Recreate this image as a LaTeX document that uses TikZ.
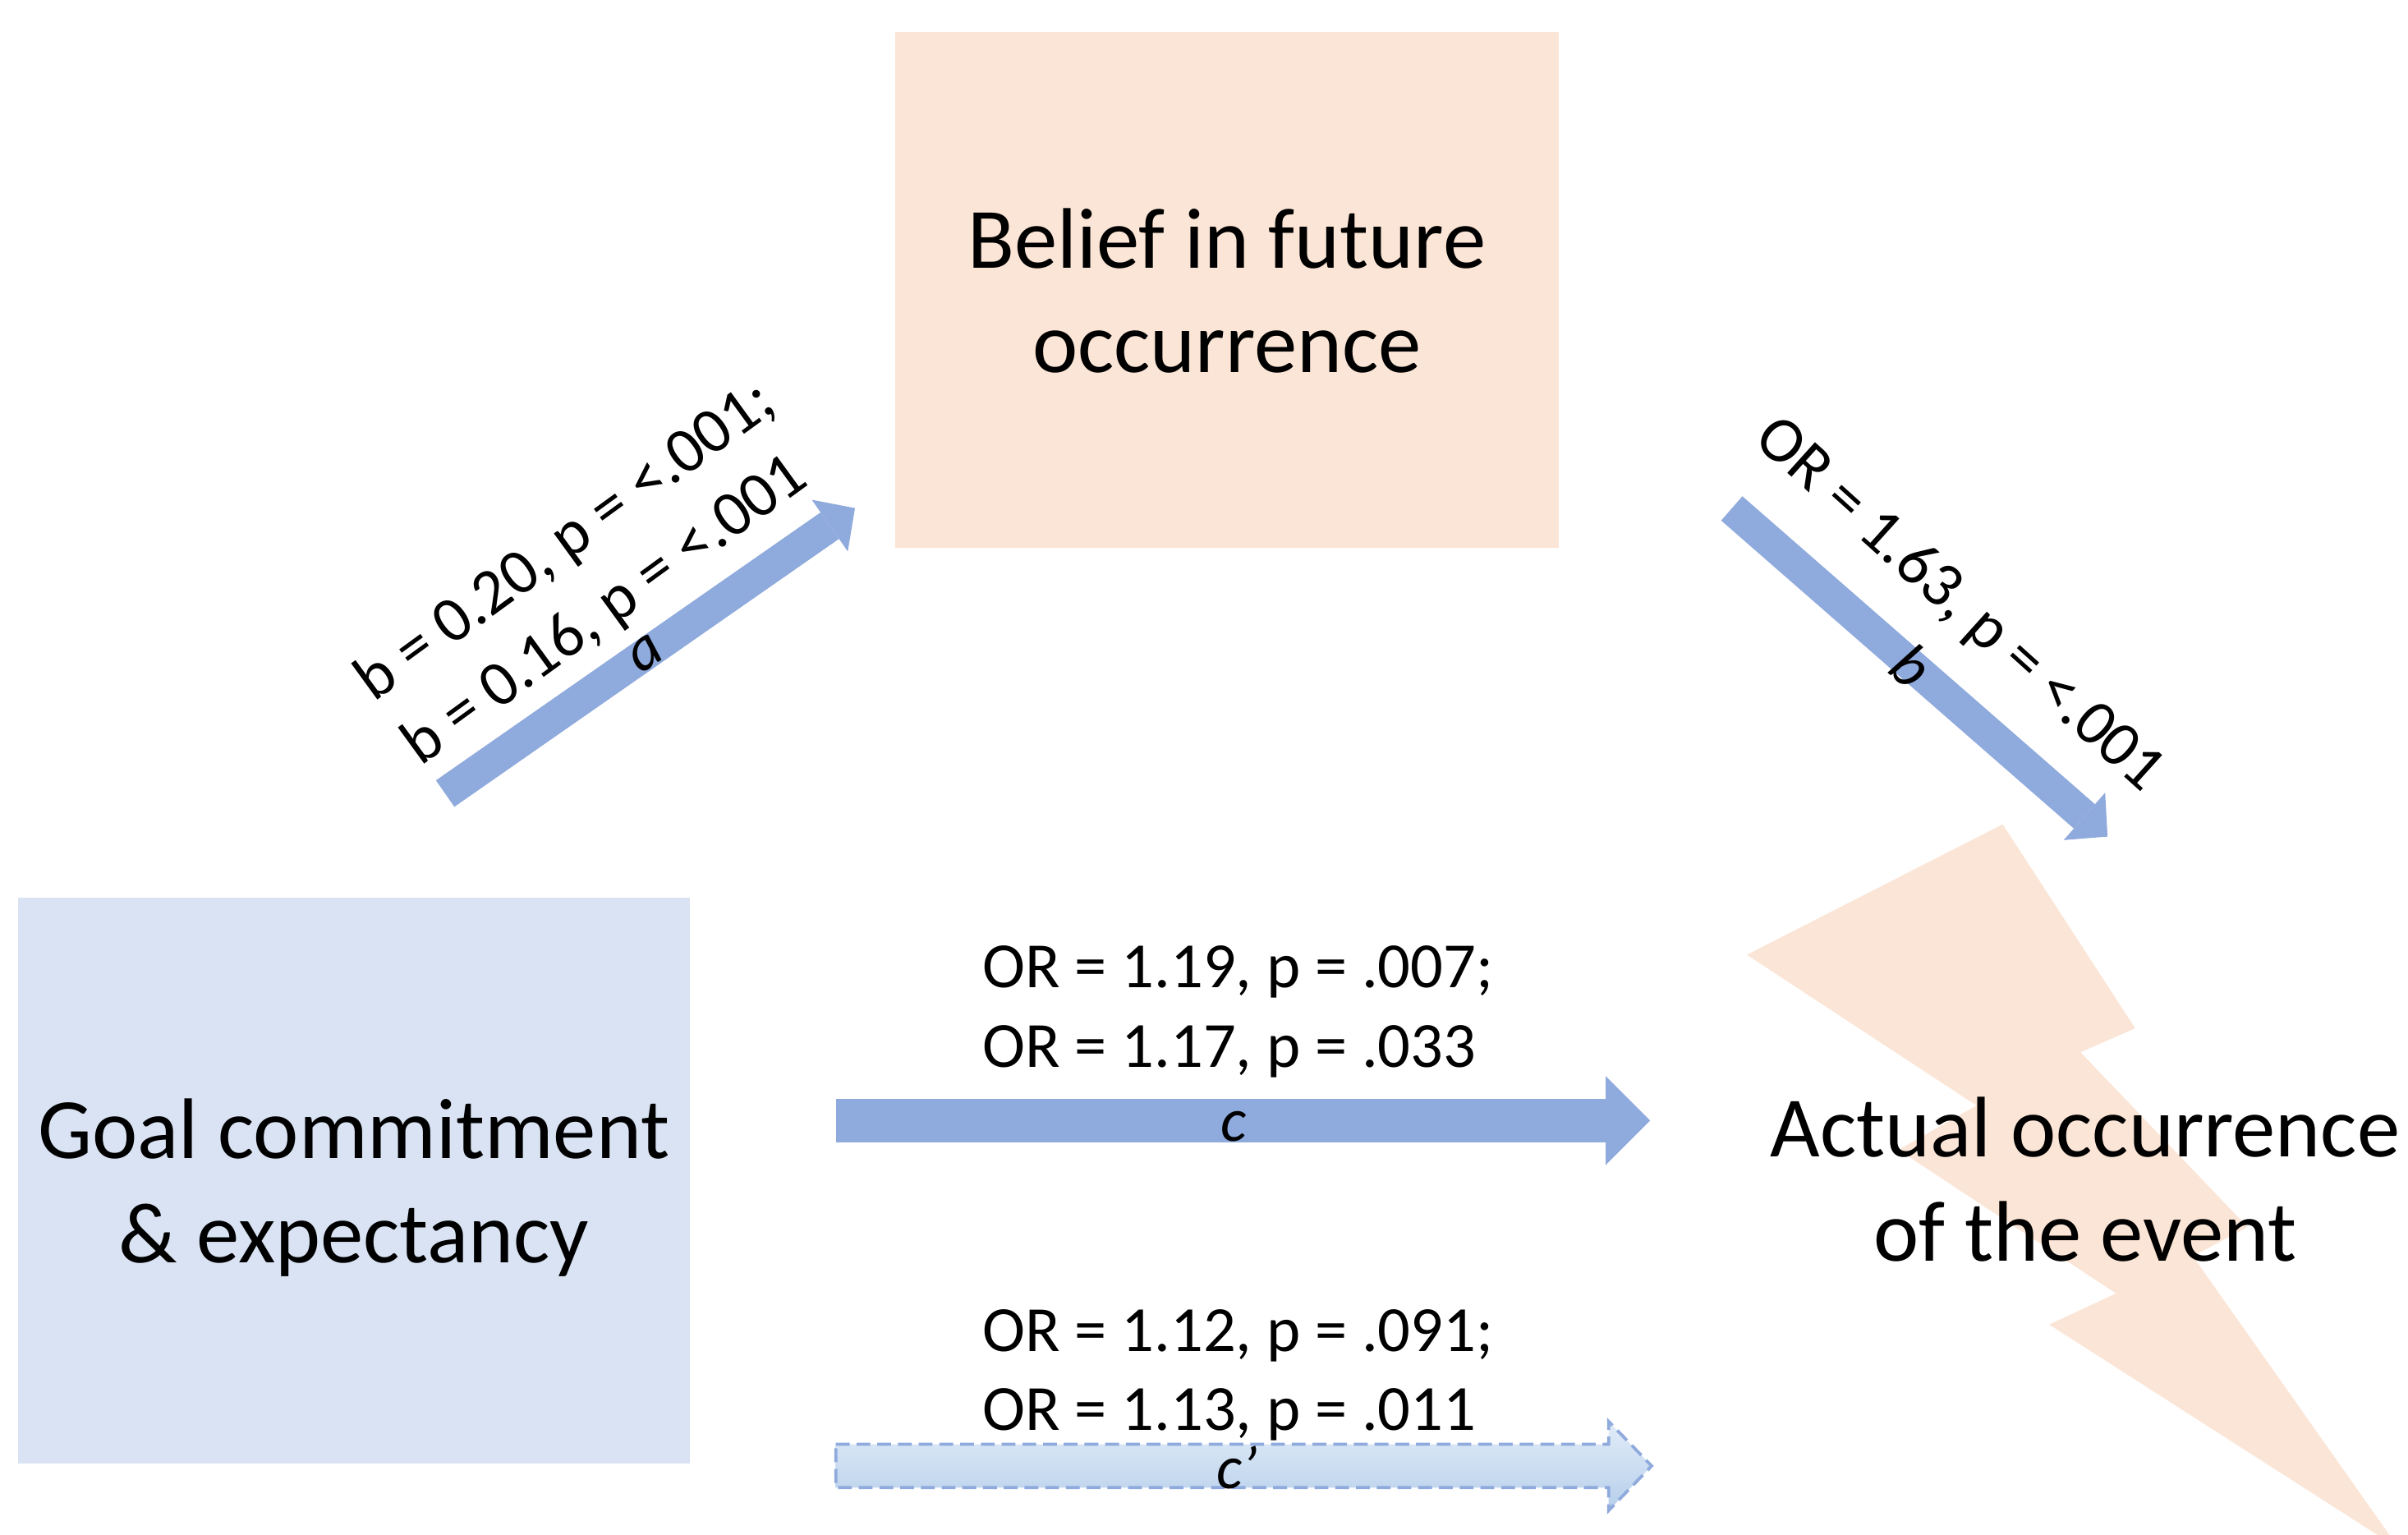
\documentclass[tikz,border=0pt]{standalone}
\usepackage{fontspec}
\setmainfont{Carlito}
\usepackage{tikz}
\usetikzlibrary{arrows.meta,calc}

\definecolor{peach}{HTML}{FBE5D6}
\definecolor{paleblue}{HTML}{DAE3F3}
\definecolor{arrowblue}{HTML}{8FAADC}
\definecolor{shadetop}{HTML}{E2ECF8}
\definecolor{shadebot}{HTML}{B6CFEB}

\begin{document}
\begin{tikzpicture}[x=1pt,y=-1pt,
  main box/.style={rectangle,inner sep=0pt,text depth=0pt,align=center,font=\fontsize{56}{68}\selectfont},
  value label/.style={inner sep=0pt,align=left,font=\fontsize{42}{51.5}\selectfont},
  path label/.style={inner sep=0pt,text=black,font=\fontsize{40}{48}\selectfont\itshape},
  small arrow/.style={arrowblue,line width=21pt,-{Triangle[length=20pt,width=41pt,line width=0pt]}},
  large arrow/.style={arrowblue,line width=28.6pt,-{Triangle[length=29pt,width=58pt,line width=0pt]}}]

  \useasboundingbox (0,0) rectangle (1568.75,1000);
  \clip (0,0) rectangle (1568.75,1000);

  % lightning bolt behind the outcome
  \fill[peach] (1304.7,537) -- (1391.0,669.9) -- (1355.4,685.5) -- (1464.2,799.4) -- (1428.6,818.4)
    -- (1563,1009) -- (1335.0,862.9) -- (1378.5,842.6) -- (1236.8,749.1) -- (1287.6,720.2)
    -- (1138,622.0) -- cycle;
  \node[main box] (event) at (1358.5,768) {Actual occurrence\\of the event};

  \node[main box,fill=peach,minimum width=432.5pt,minimum height=336pt] (belief) at (799.3,189) {Belief in future\\occurrence};
  \node[main box,fill=paleblue,minimum width=437.6pt,minimum height=368.5pt] (goal) at (230.5,769.2) {Goal commitment\\\& expectancy};

  \coordinate (aTail) at (290,517);
  \coordinate (aTip) at (557,331);
  \coordinate (bTail) at (1128.2,331.2);
  \coordinate (bTip) at (1373,545);
  \coordinate (cTail) at (544.5,730);
  \coordinate (cTip) at (1075,730);
  \coordinate (dTail) at (544.5,955);
  \coordinate (dTip) at (1076,955);

  \draw[small arrow] (aTail) -- node[path label,sloped,pos=0.49] {a} (aTip);
  \draw[small arrow] (bTail) -- node[path label,sloped,pos=0.48] {b} (bTip);
  \draw[large arrow] (cTail) -- node[path label,pos=0.489,anchor=base,yshift=-13.5pt] {c} (cTip);

  % direct path, not significant
  \path[top color=shadetop,bottom color=shadebot,draw=arrowblue,line width=2pt,dash pattern=on 9pt off 4.5pt]
    ($(dTail)+(0,-14.1)$) -- ($(dTip)+(-28,-14.1)$) -- ($(dTip)+(-28,-29)$) -- (dTip)
    -- ($(dTip)+(-28,29)$) -- ($(dTip)+(-28,14.1)$) -- ($(dTail)+(0,14.1)$) -- cycle;
  \path (dTail) -- node[path label,pos=0.492,anchor=base,yshift=-14.7pt] {c’} (dTip);

  \node[value label,rotate=36] (valA) at (384,374) {b = 0.20, p = <.001;\\b = 0.16, p = <.001};
  \node[value label,rotate=-42] (valB) at (1276,394.4) {OR = 1.63, p = <.001};
  \node[value label,anchor=west] (valC) at (640,659.1) {OR = 1.19, p = .007;\\OR = 1.17, p = .033};
  \node[value label,anchor=west] (valD) at (640,896) {OR = 1.12, p = .091;\\OR = 1.13, p = .011};
\end{tikzpicture}
\end{document}
